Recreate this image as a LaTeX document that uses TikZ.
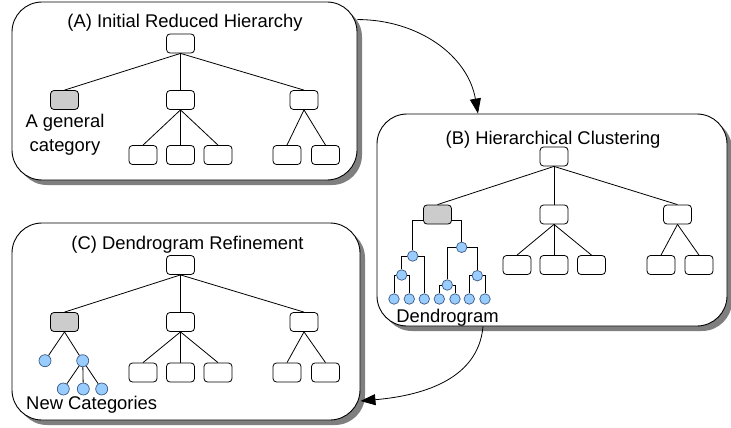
\documentclass[tikz,border=0pt]{standalone}
\usepackage{fontspec}
\setmainfont{Liberation Sans}
\usetikzlibrary{arrows.meta,shadows}
\definecolor{boxgray}{HTML}{CCCCCC}
\definecolor{dotblue}{HTML}{99CCFF}
\definecolor{dotline}{HTML}{3C5A82}
\definecolor{shade}{HTML}{7F7F7F}
\tikzset{
  panel/.style={draw=black, line width=0.9pt, fill=white, rounded corners=30pt, inner sep=0pt,
    drop shadow={shadow xshift=5pt, shadow yshift=-5pt, fill=shade, opacity=1}},
  cbox/.style={draw=black, line width=0.8pt, fill=white, rounded corners=3.5pt,
    minimum width=28pt, minimum height=19pt, inner sep=0pt},
  gbox/.style={cbox, fill=boxgray},
  dot/.style={circle, draw=dotline, line width=0.7pt, fill=dotblue, minimum size=10.5pt, inner sep=0pt},
  bigdot/.style={dot, minimum size=12pt},
  edge/.style={draw=black, line width=0.8pt},
  lbl/.style={font=\fontsize{18.4}{24}\selectfont, inner sep=0pt, align=center},
  flow/.style={draw=black, line width=0.8pt, -{Triangle[length=15pt,width=11pt]}}
}
\begin{document}
\begin{tikzpicture}[x=1pt,y=-1pt]
\useasboundingbox (0,0) rectangle (731,428);
% panels
\node[panel, minimum width=345pt, minimum height=178pt] (A) at (184.5,91) {};
\node[panel, minimum width=350pt, minimum height=212pt] (B) at (552,220) {};
\node[panel, minimum width=348pt, minimum height=197pt] (C) at (186,321.5) {};
% titles
\node[lbl] (tA) at (185,23) {(A) Initial Reduced Hierarchy};
\node[lbl] (tB) at (553,140) {(B) Hierarchical Clustering};
\node[lbl] (tC) at (187.5,245) {(C) Dendrogram Refinement};
% ---- panel A
\node[cbox] (a0) at (180.5,43.5) {};
\node[gbox] (a1) at (64.5,100) {};
\node[cbox] (a2) at (180.5,100) {};
\node[cbox] (a3) at (304,100) {};
\node[cbox] (a21) at (143,155) {};
\node[cbox] (a22) at (180.5,155) {};
\node[cbox] (a23) at (218,155) {};
\node[cbox] (a31) at (287,155) {};
\node[cbox] (a32) at (325.5,155) {};
\foreach \c in {a1,a2,a3} \draw[edge] (a0.south) -- (\c.north);
\foreach \c in {a21,a22,a23} \draw[edge] (a2.south) -- (\c.north);
\foreach \c in {a31,a32} \draw[edge] (a3.south) -- (\c.north);
\node[lbl] (la) at (65,135) {A general\\category};
% ---- panel B
\node[cbox] (b0) at (554,156.5) {};
\node[gbox] (b1) at (437.5,214.5) {};
\node[cbox] (b2) at (554,214.5) {};
\node[cbox] (b3) at (677.5,214.5) {};
\node[cbox] (b21) at (517,265) {};
\node[cbox] (b22) at (554,265) {};
\node[cbox] (b23) at (591.5,265) {};
\node[cbox] (b31) at (661,265) {};
\node[cbox] (b32) at (699,265) {};
\foreach \c in {b1,b2,b3} \draw[edge] (b0.south) -- (\c.north);
\foreach \c in {b21,b22,b23} \draw[edge] (b2.south) -- (\c.north);
\foreach \c in {b31,b32} \draw[edge] (b3.south) -- (\c.north);
% dendrogram
\node[dot] (d1) at (412.7,256) {};
\node[dot] (d2) at (461.7,247.3) {};
\node[dot] (d11) at (401.7,275) {};
\node[dot] (d21) at (447.3,285) {};
\node[dot] (d22) at (477.3,275.7) {};
\node[dot] (l1) at (394,299) {};
\node[dot] (l2) at (409.3,299) {};
\node[dot] (l3) at (424.3,299) {};
\node[dot] (l4) at (439.3,299) {};
\node[dot] (l5) at (455,299) {};
\node[dot] (l6) at (469.3,299) {};
\node[dot] (l7) at (485,299) {};
\draw[edge] ([yshift=-5.5pt]b1.west) -| (d1);
\draw[edge] ([yshift=-5.5pt]b1.east) -| (d2);
\draw[edge] (d1) -| (d11);
\draw[edge] (d1) -| (l3);
\draw[edge] (d11) -| (l1);
\draw[edge] (d11) -| (l2);
\draw[edge] (d2) -| (d21);
\draw[edge] (d2) -| (d22);
\draw[edge] (d21) -| (l4);
\draw[edge] (d21) -| (l5);
\draw[edge] (d22) -| (l6);
\draw[edge] (d22) -| (l7);
\node[lbl] (lb) at (447.5,318) {Dendrogram};
% ---- panel C
\node[cbox] (c0) at (180.5,265) {};
\node[gbox] (c1) at (64.5,322) {};
\node[cbox] (c2) at (180.5,322) {};
\node[cbox] (c3) at (304,322) {};
\node[cbox] (c21) at (143,372.5) {};
\node[cbox] (c22) at (180.5,372.5) {};
\node[cbox] (c23) at (218,372.5) {};
\node[cbox] (c31) at (287,372.5) {};
\node[cbox] (c32) at (325.5,372.5) {};
\foreach \c in {c1,c2,c3} \draw[edge] (c0.south) -- (\c.north);
\foreach \c in {c21,c22,c23} \draw[edge] (c2.south) -- (\c.north);
\foreach \c in {c31,c32} \draw[edge] (c3.south) -- (\c.north);
\node[bigdot] (e1) at (45,360.7) {};
\node[bigdot] (e2) at (82.7,360.7) {};
\node[bigdot] (e21) at (63.3,389) {};
\node[bigdot] (e22) at (83.3,389) {};
\node[bigdot] (e23) at (101.7,389) {};
\draw[edge] (c1.south) -- (e1);
\draw[edge] (c1.south) -- (e2);
\foreach \c in {e21,e22,e23} \draw[edge] (e2) -- (\c);
\node[lbl] (lc) at (91.7,405) {New Categories};
% ---- flow arrows
\coordinate (s1) at ([yshift=-18pt]A.north east);
\coordinate (t1) at ([xshift=-74pt]B.north);
\coordinate (s2) at ([xshift=-69pt]B.south);
\coordinate (t2) at ([yshift=-79.5pt]C.east);
\draw[flow] (s1) to[out=0, in=100] (t1);
\draw[flow] (s2) to[out=-95, in=5] (t2);
\end{tikzpicture}
\end{document}
